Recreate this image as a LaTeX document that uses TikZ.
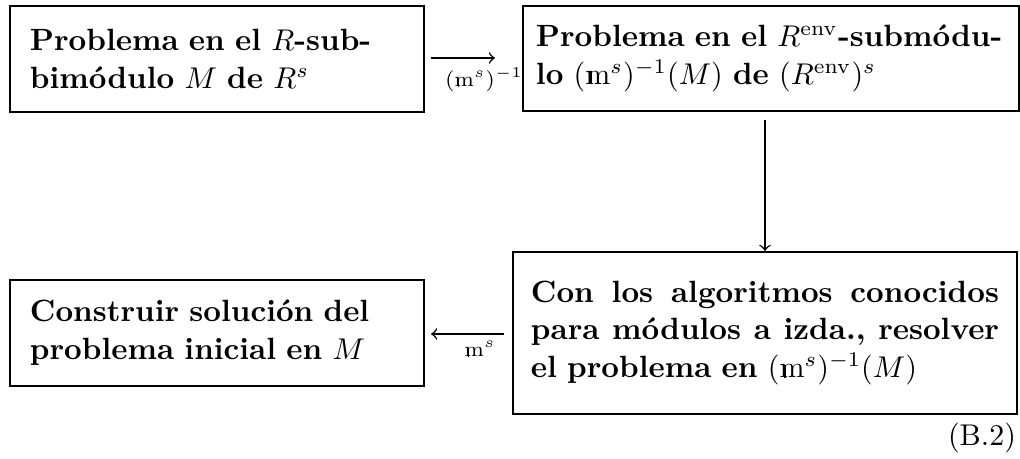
\documentclass[tikz,border=0pt]{standalone}
\usetikzlibrary{calc}
\newcommand\dsm{\mathrm{\rlap{\kern0.16em\vrule height 0.43em width 0.05em}m}}
\newcommand\fullline[1]{\leavevmode\hbox to \linewidth{#1}}
\tikzset{
  x=0.3333pt, y=-0.3333pt,
  box/.style={draw, line width=0.7pt, rectangle, align=left, font=\fontsize{10.25}{12.6}\selectfont\bfseries},
  conn/.style={->, line width=0.5pt},
  lbl/.style={font=\scriptsize, inner sep=0pt},
}
\begin{document}
\begin{tikzpicture}
\useasboundingbox (0,0) rectangle (1020,459);
\node[box, minimum width=138pt, minimum height=35.33pt, text width=124.67pt, inner xsep=6.67pt] (b1) at (217,59)
  {Problema en el $R$-sub-\\bim\'odulo $M$ de $R^s$};
\node[box, minimum width=165.33pt, minimum height=35pt, text width=156.67pt, inner xsep=4.33pt] (b2) at (771,58.5)
  {Problema en el $R^{\mathrm{env}}$-subm\'odu-\\lo $(\dsm^s)^{-1}(M)$ de $(R^{\mathrm{env}})^s$};
\node[box, minimum width=168pt, minimum height=54pt, text width=156pt, inner xsep=6pt] (b3) at (765,333)
  {\fullline{Con\hfill los\hfill algoritmos\hfill conocidos}\\\fullline{para\hfill m\'odulos\hfill a\hfill izda.,\hfill resolver}\\el problema en $(\dsm^s)^{-1}(M)$};
\node[box, minimum width=138pt, minimum height=35.33pt, text width=124.67pt, inner xsep=6.67pt] (b4) at (217,333)
  {Construir soluci\'on del\\problema inicial en $M$};
\coordinate (t1) at ($(b1.east)+(6,-1)$);
\coordinate (t2) at ($(b2.west)+(-27,-0.5)$);
\draw[conn] (t1) -- (t2);
\node[lbl] (l1) at (484,80) {$(\dsm^s)^{-1}$};
\coordinate (v1) at ($(b2.south -| b3.north)+(0,8)$);
\draw[conn] (v1) -- (b3.north);
\coordinate (h1) at ($(b3.west)+(-8,1)$);
\coordinate (h2) at ($(b4.east)+(6,1)$);
\draw[conn] (h1) -- (h2);
\node[lbl] (l2) at (480,349) {$\dsm^s$};
\node[inner sep=0pt] (eq) at (982,438) {(B.2)};
\end{tikzpicture}
\end{document}
